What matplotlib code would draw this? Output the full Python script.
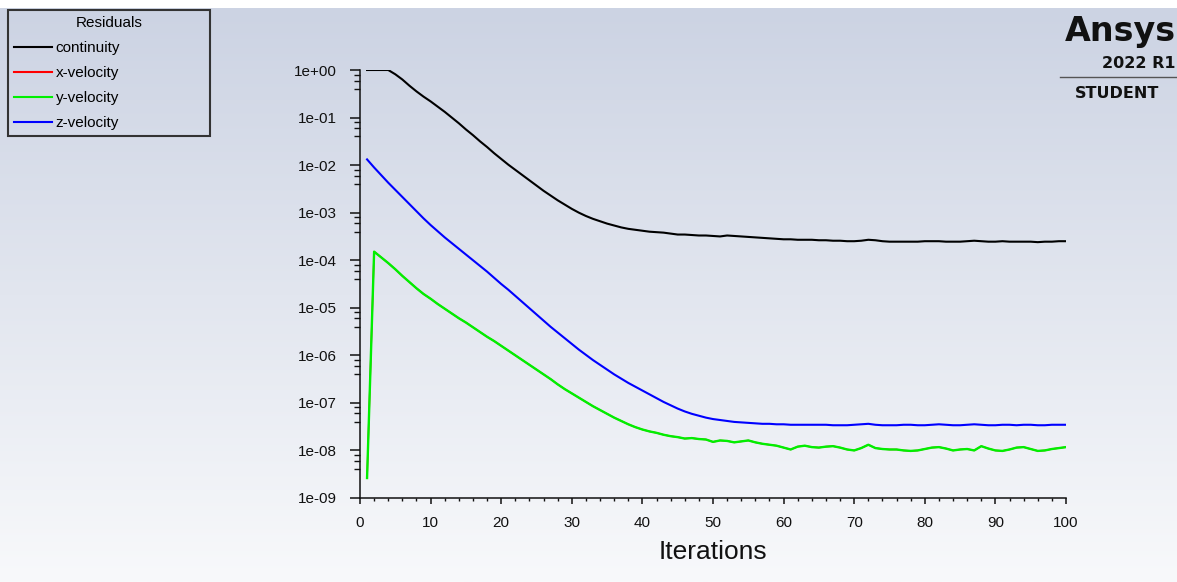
import numpy as np
import matplotlib
matplotlib.use("Agg")
import matplotlib.pyplot as plt
from matplotlib.ticker import LogLocator, NullFormatter, FixedLocator

plt.rcParams['font.family'] = ['Liberation Sans', 'DejaVu Sans']

# iterations 1..100, residuals as log10 exponents
iterations = np.arange(1, 101)

continuity_exp = [
    0.00, 0.00, 0.00, 0.00, -0.09, -0.20, -0.33, -0.45, -0.56, -0.66,
    -0.77, -0.88, -1.00, -1.12, -1.25, -1.37, -1.50, -1.62, -1.75, -1.87,
    -1.99, -2.10, -2.21, -2.32, -2.43, -2.54, -2.64, -2.74, -2.83, -2.92,
    -3.00, -3.07, -3.13, -3.18, -3.23, -3.27, -3.31, -3.34, -3.36, -3.38,
    -3.40, -3.41, -3.42, -3.44, -3.46, -3.46, -3.47, -3.48, -3.48, -3.49,
    -3.50, -3.48, -3.49, -3.50, -3.51, -3.52, -3.53, -3.54, -3.55, -3.56,
    -3.56, -3.57, -3.57, -3.57, -3.58, -3.58, -3.59, -3.59, -3.60, -3.60,
    -3.59, -3.57, -3.58, -3.60, -3.61, -3.61, -3.61, -3.61, -3.61, -3.60,
    -3.60, -3.60, -3.61, -3.61, -3.61, -3.60, -3.59, -3.60, -3.61, -3.61,
    -3.60, -3.61, -3.61, -3.61, -3.61, -3.62, -3.61, -3.61, -3.60, -3.60,
]

z_velocity_exp = [
    -1.88, -2.05, -2.21, -2.37, -2.52, -2.67, -2.82, -2.97, -3.12, -3.26,
    -3.39, -3.52, -3.64, -3.76, -3.88, -4.00, -4.12, -4.24, -4.37, -4.50,
    -4.62, -4.75, -4.88, -5.01, -5.14, -5.27, -5.40, -5.52, -5.64, -5.76,
    -5.88, -5.99, -6.10, -6.20, -6.30, -6.40, -6.49, -6.58, -6.66, -6.74,
    -6.82, -6.90, -6.98, -7.05, -7.12, -7.18, -7.23, -7.27, -7.31, -7.34,
    -7.36, -7.38, -7.40, -7.41, -7.42, -7.43, -7.44, -7.44, -7.45, -7.45,
    -7.46, -7.46, -7.46, -7.46, -7.46, -7.46, -7.47, -7.47, -7.47, -7.46,
    -7.45, -7.44, -7.46, -7.47, -7.47, -7.47, -7.46, -7.46, -7.47, -7.47,
    -7.46, -7.45, -7.46, -7.47, -7.47, -7.46, -7.45, -7.46, -7.47, -7.47,
    -7.46, -7.46, -7.47, -7.46, -7.46, -7.47, -7.47, -7.46, -7.46, -7.46,
]

y_velocity_exp = [
    -8.58, -3.82, -3.94, -4.06, -4.19, -4.33, -4.46, -4.59, -4.71, -4.81,
    -4.92, -5.02, -5.12, -5.22, -5.31, -5.41, -5.51, -5.61, -5.70, -5.80,
    -5.90, -6.00, -6.10, -6.20, -6.30, -6.40, -6.50, -6.61, -6.71, -6.80,
    -6.89, -6.98, -7.07, -7.15, -7.23, -7.31, -7.38, -7.45, -7.51, -7.56,
    -7.60, -7.63, -7.67, -7.70, -7.72, -7.75, -7.74, -7.76, -7.77, -7.82,
    -7.79, -7.80, -7.83, -7.81, -7.79, -7.83, -7.86, -7.88, -7.90, -7.94,
    -7.98, -7.92, -7.90, -7.93, -7.94, -7.92, -7.91, -7.94, -7.98, -8.00,
    -7.95, -7.88, -7.95, -7.97, -7.98, -7.98, -8.00, -8.01, -8.00, -7.97,
    -7.94, -7.93, -7.96, -8.00, -7.98, -7.97, -8.00, -7.91, -7.96, -8.00,
    -8.01, -7.98, -7.94, -7.93, -7.97, -8.01, -8.00, -7.97, -7.95, -7.93,
]

# x-velocity lies under the y-velocity curve in the picture
x_velocity_exp = list(y_velocity_exp)

series = [
    ("continuity", continuity_exp, "black", 1.5),
    ("x-velocity", x_velocity_exp, "#ff0000", 1.1),
    ("y-velocity", y_velocity_exp, "#00f000", 1.7),
    ("z-velocity", z_velocity_exp, "#0000ff", 1.5),
]

x_ticks = list(range(0, 101, 10))
y_ticks = [10.0 ** -k for k in range(0, 10)]
y_tick_labels = ["1e+00", "1e-01", "1e-02", "1e-03", "1e-04",
                 "1e-05", "1e-06", "1e-07", "1e-08", "1e-09"]

W, H = 1177, 582
fig = plt.figure(figsize=(W / 100, H / 100), dpi=100)
fig.patch.set_facecolor("white")

# gradient background
bg = fig.add_axes([0, 0, 1, 1 - 8 / H], zorder=-10)
top = np.array([204, 211, 227]) / 255
bot = np.array([248, 249, 251]) / 255
t = np.linspace(0, 1, 256)[:, None]
grad = top[None, :] * (1 - t) + bot[None, :] * t
bg.imshow(grad[:, None, :], aspect="auto", extent=[0, 1, 0, 1])
bg.set_axis_off()

ax = fig.add_axes([360 / W, 1 - 498 / H, 706 / W, 428 / H])
ax.patch.set_alpha(0)

handles = []
for name, exps, color, lw in series:
    h, = ax.plot(iterations, 10.0 ** np.array(exps), color=color, lw=lw, label=name)
    handles.append(h)

ax.set_yscale("log")
ax.set_xlim(0, 100)
ax.set_ylim(1e-9, 1)

ax.xaxis.set_major_locator(FixedLocator(x_ticks))
ax.xaxis.set_minor_locator(FixedLocator(list(range(0, 101, 2))))
ax.set_yticks(y_ticks)
ax.set_yticklabels(y_tick_labels)
ax.yaxis.set_minor_locator(LogLocator(base=10, subs=(4, 6, 8), numticks=20))
ax.yaxis.set_minor_formatter(NullFormatter())

for s in ["top", "right"]:
    ax.spines[s].set_visible(False)
for s in ["left", "bottom"]:
    ax.spines[s].set_linewidth(1.1)
    ax.spines[s].set_color("#111111")

ax.tick_params(axis="y", which="major", length=7, width=1.1, pad=10,
               labelsize=11, colors="#111111")
ax.tick_params(axis="y", which="minor", length=4, width=1.0, colors="#111111")
ax.tick_params(axis="x", which="major", length=4, width=1.1, pad=9,
               labelsize=11, colors="#111111")
ax.tick_params(axis="x", which="minor", length=2.5, width=1.0, colors="#111111")

ax.set_xlabel("Iterations", fontsize=19, labelpad=7, color="#111111")

leg_handles = [plt.Line2D([], [], color=h.get_color(), lw=1.5) for h in handles]
leg = fig.legend(handles=leg_handles, labels=[s[0] for s in series],
                 title="Residuals", loc="upper left",
                 bbox_to_anchor=(8 / W, 1 - 10 / H, 202 / W, 0), mode="expand",
                 fontsize=11, title_fontsize=11, handlelength=2.5,
                 handletextpad=0.25, borderpad=0.38, labelspacing=0.73,
                 borderaxespad=0, fancybox=False, framealpha=1,
                 facecolor="none", edgecolor="#333333")
leg.get_frame().set_linewidth(1.5)

# Ansys logo block
fig.text(1176 / W, 1 - 31 / H, "Ansys", ha="right", va="center",
         fontsize=24, fontweight="heavy", family="DejaVu Sans", color="#111111")
fig.text(1176 / W, 1 - 63 / H, "2022 R1", ha="right", va="center",
         fontsize=11.5, fontweight="bold", family="DejaVu Sans", color="#111111")
fig.add_artist(plt.Line2D([1060 / W, 1177 / W], [1 - 77 / H, 1 - 77 / H],
                          color="#555555", lw=1.0))
fig.text(1117 / W, 1 - 93 / H, "STUDENT", ha="center", va="center",
         fontsize=11.5, fontweight="bold", family="DejaVu Sans", color="#111111")

fig.savefig("out.png", dpi=100)
